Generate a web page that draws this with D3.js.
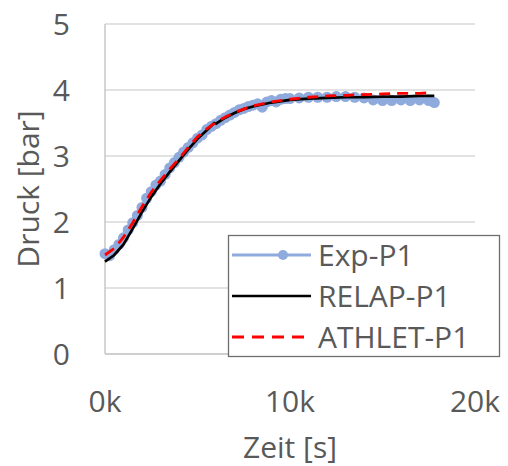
<!DOCTYPE html>
<html><head><meta charset="utf-8">
<script src="https://cdn.jsdelivr.net/npm/d3@7"></script>
<style>body{margin:0;background:#fff}text{font-family:"Open Sans",sans-serif;fill:#595959}</style>
</head><body><svg id="c" width="508" height="466"></svg>
<script>
const seriesNames = ["Exp-P1","RELAP-P1","ATHLET-P1"];
const xTicks = [0,10000,20000];
const xTickLabels = ["0k","10k","20k"];
const yTicks = [0,1,2,3,4,5];
const expTime = [0,250,500,750,1000,1250,1500,1750,2000,2250,2500,2750,3000,3250,3500,3750,4000,4250,4500,4750,5000,5250,5500,5750,6000,6250,6500,6750,7000,7250,7500,7750,8000,8250,8500,8750,9000,9250,9500,9750,10000,10500,11000,11500,12000,12500,13000,13500,14000,14500,15000,15500,16000,16500,17000,17500,17800];
const expP = [1.52,1.49,1.58,1.66,1.76,1.88,1.99,2.10,2.22,2.36,2.46,2.56,2.62,2.72,2.82,2.90,2.98,3.06,3.13,3.20,3.27,3.32,3.40,3.45,3.49,3.54,3.58,3.62,3.66,3.70,3.72,3.75,3.77,3.79,3.74,3.82,3.84,3.82,3.86,3.87,3.87,3.88,3.89,3.89,3.89,3.90,3.90,3.89,3.88,3.85,3.84,3.84,3.85,3.84,3.85,3.84,3.81];
const relapTime = [0,500,1000,1500,2000,2500,3000,3500,4000,4500,5000,5500,5900,6000,6500,7000,7500,8000,9000,10000,11000,12000,13000,14000,15000,16000,17000,17800];
const relapP = [1.40,1.50,1.66,1.90,2.15,2.38,2.58,2.76,2.93,3.10,3.26,3.39,3.50,3.49,3.58,3.65,3.71,3.75,3.81,3.85,3.87,3.88,3.89,3.89,3.90,3.90,3.91,3.91];
const athletTime = [0,500,1000,1500,2000,2500,3000,3500,4000,4500,5000,5500,6000,6500,7000,7500,8000,9000,10000,11000,12000,13000,14000,15000,16000,17000,17700];
const athletP = [1.50,1.60,1.77,1.99,2.23,2.45,2.63,2.80,2.96,3.13,3.29,3.41,3.51,3.59,3.66,3.71,3.76,3.82,3.86,3.89,3.91,3.92,3.93,3.94,3.95,3.95,3.96];

const svg = d3.select("#c");
const x = d3.scaleLinear().domain([0,20000]).range([105,475]);
const y = d3.scaleLinear().domain([0,5]).range([354,24]);

// gridlines
svg.append("g").selectAll("line").data(yTicks.slice(1)).join("line")
  .attr("x1",105).attr("x2",475).attr("y1",d=>y(d)).attr("y2",d=>y(d))
  .attr("stroke","#d9d9d9").attr("stroke-width",1.3);
svg.append("line").attr("x1",105).attr("x2",105).attr("y1",y(5)).attr("y2",y(0)).attr("stroke","#bfbfbf").attr("stroke-width",1.3);
svg.append("line").attr("x1",105).attr("x2",475).attr("y1",y(0)).attr("y2",y(0)).attr("stroke","#bfbfbf").attr("stroke-width",1.3);

const fs = 30;
// tick labels
svg.append("g").selectAll("text").data(yTicks).join("text")
  .attr("x",70).attr("y",d=>y(d)+11).attr("text-anchor","end").attr("font-size",fs).text(d=>d);
svg.append("g").selectAll("text").data(xTicks).join("text")
  .attr("x",d=>x(d)).attr("y",412).attr("text-anchor","middle").attr("font-size",fs).text((d,i)=>xTickLabels[i]);

svg.append("text").attr("x",290).attr("y",458).attr("text-anchor","middle").attr("font-size",fs).text("Zeit [s]");
svg.append("text").attr("transform","translate(39,189) rotate(-90)").attr("text-anchor","middle").attr("font-size",fs).text("Druck [bar]");

const line = d3.line().x(d=>x(d[0])).y(d=>y(d[1]));
const expData = expTime.map((t,i)=>[t,expP[i]]);
const relapData = relapTime.map((t,i)=>[t,relapP[i]]);
const athletData = athletTime.map((t,i)=>[t,athletP[i]]);

svg.append("path").attr("d",line(expData)).attr("fill","none").attr("stroke","#8faadc").attr("stroke-width",3);
svg.append("g").selectAll("circle").data(expData).join("circle")
  .attr("cx",d=>x(d[0])).attr("cy",d=>y(d[1])).attr("r",5.5).attr("fill","#8faadc");
svg.append("path").attr("d",line(relapData)).attr("fill","none").attr("stroke","#000").attr("stroke-width",2.7);
svg.append("path").attr("d",line(athletData)).attr("fill","none").attr("stroke","#ff0000").attr("stroke-width",2.8).attr("stroke-dasharray","11,7");

// legend
const lg = svg.append("g");
lg.append("rect").attr("x",228.5).attr("y",235.5).attr("width",271).attr("height",121).attr("fill","#fff").attr("stroke","#6e6e6e").attr("stroke-width",1.3);
const ly = [255,296,337];
const styles = [{c:"#8faadc",d:null,w:3},{c:"#000",d:null,w:2.7},{c:"#ff0000",d:"12,8",w:2.8}];
seriesNames.forEach((n,i)=>{
  lg.append("line").attr("x1",232).attr("x2",311).attr("y1",ly[i]).attr("y2",ly[i])
    .attr("stroke",styles[i].c).attr("stroke-width",styles[i].w).attr("stroke-dasharray",styles[i].d);
  if(i===0) lg.append("circle").attr("cx",283).attr("cy",ly[i]).attr("r",5).attr("fill","#8faadc");
  lg.append("text").attr("x",318).attr("y",ly[i]+11).attr("font-size",fs).text(n);
});
</script></body></html>
